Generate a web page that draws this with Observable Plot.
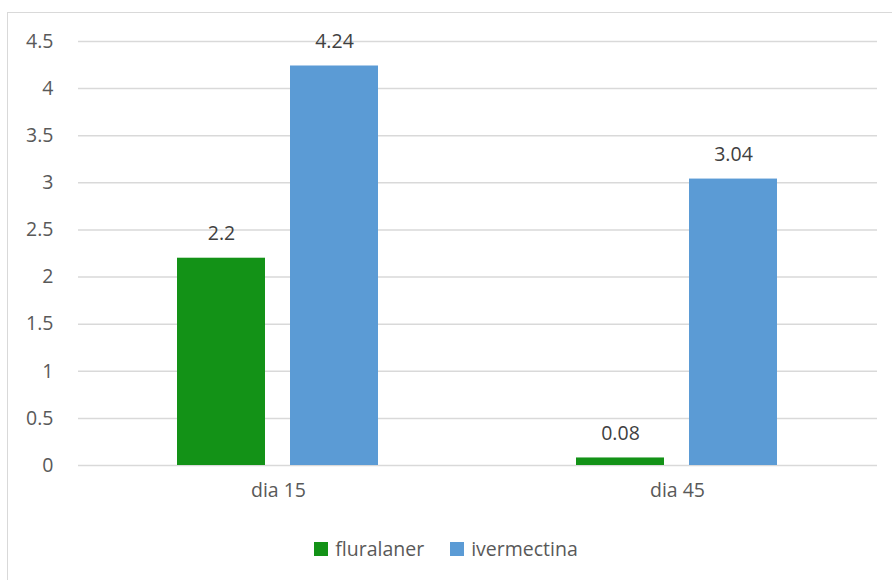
<!DOCTYPE html>
<html>
<head>
<meta charset="utf-8">
<script src="https://cdn.jsdelivr.net/npm/d3@7"></script>
<script src="https://cdn.jsdelivr.net/npm/@observablehq/plot@0.6"></script>
<style>
  html, body { margin: 0; padding: 0; background: #fff; }
  #chart { position: relative; width: 892px; height: 580px; overflow: hidden; font-family: "Open Sans", sans-serif; color: #595959; }
  #frame { position: absolute; left: 7px; top: 12px; width: 900px; height: 600px; border: 1.5px solid #d9d9d9; box-sizing: border-box; }
  .layer { position: absolute; left: 0; top: 0; }
  #legend { position: absolute; left: 0; width: 892px; top: 535px; display: flex; justify-content: center; gap: 26px; font-size: 19.5px; }
  #legend .item { display: flex; align-items: center; gap: 7px; }
  #legend .sw { width: 14px; height: 14px; display: inline-block; }
</style>
</head>
<body>
<div id="chart">
  <div id="frame"></div>
  <div id="grid" class="layer"></div>
  <div id="bars" class="layer"></div>
  <div id="legend"></div>
</div>
<script>
// Days of measurement
const days = ["dia 15", "dia 45"];
// Treatment series
const series = ["fluralaner", "ivermectina"];
const seriesColors = ["#139217", "#5b9bd5"];
// Values per series, one entry per day
const fluralaner = [2.2, 0.08];
const ivermectina = [4.24, 3.04];
// Y axis tick values
const yTicks = [0, 0.5, 1, 1.5, 2, 2.5, 3, 3.5, 4, 4.5];

const rows = [];
days.forEach((d, i) => {
  rows.push({day: d, series: "fluralaner", value: fluralaner[i]});
  rows.push({day: d, series: "ivermectina", value: ivermectina[i]});
});

// Shared layout so both layers line up
const frame = {
  width: 892,
  height: 520,
  marginLeft: 78,
  marginRight: 15,
  marginTop: 41,
  marginBottom: 55,
  style: {fontFamily: "Open Sans, sans-serif", fontSize: "19.5px", color: "#595959", background: "transparent", overflow: "visible"}
};
const yScale = {domain: [0, 4.5], ticks: yTicks, tickSize: 0, tickPadding: 25, tickFormat: d => `${d}`, label: null};

// Back layer: y axis and full-width gridlines
const gridPlot = Plot.plot({
  ...frame,
  x: {axis: null},
  y: yScale,
  marks: [
    Plot.ruleY(yTicks, {stroke: "#d9d9d9", strokeWidth: 1.5})
  ]
});
document.getElementById("grid").appendChild(gridPlot);

// Front layer: grouped bars with value labels
const barPlot = Plot.plot({
  ...frame,
  fx: {domain: days, paddingInner: 0.4925, paddingOuter: 0.24625, label: null, axis: "bottom", tickSize: 0, tickPadding: 18},
  x: {domain: series, paddingInner: 0.22, paddingOuter: 0, axis: null},
  y: {...yScale, axis: null},
  color: {domain: series, range: seriesColors},
  marks: [
    Plot.barY(rows, {fx: "day", x: "series", y: "value", fill: "series"}),
    Plot.text(rows, {fx: "day", x: "series", y: "value", text: d => `${d.value}`, dy: -24, lineAnchor: "middle", fill: "#404040", fontSize: 19.5})
  ]
});
document.getElementById("bars").appendChild(barPlot);

const legend = document.getElementById("legend");
series.forEach((s, i) => {
  const item = document.createElement("div");
  item.className = "item";
  const sw = document.createElement("span");
  sw.className = "sw";
  sw.style.background = seriesColors[i];
  const label = document.createElement("span");
  label.textContent = s;
  item.appendChild(sw);
  item.appendChild(label);
  legend.appendChild(item);
});
</script>
</body>
</html>
